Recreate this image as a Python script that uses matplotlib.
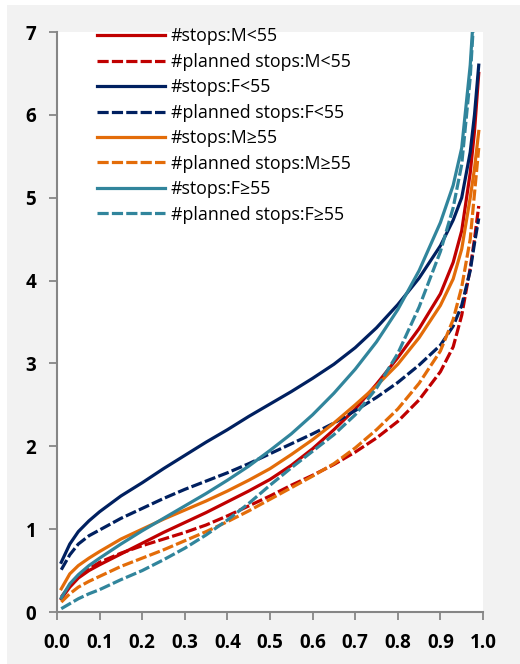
import matplotlib.pyplot as plt
from matplotlib.patches import Rectangle

plt.rcParams['font.family'] = ['Open Sans', 'DejaVu Sans']

# share of drivers (quantile) and the matching number of stops
quantile = [0.01, 0.03, 0.05, 0.075, 0.1, 0.15, 0.2, 0.25, 0.3, 0.35, 0.4, 0.45, 0.5,
            0.55, 0.6, 0.65, 0.7, 0.75, 0.8, 0.85, 0.9, 0.93, 0.95, 0.97, 0.98, 0.99]

stops_m_lt55 = [0.16, 0.30, 0.41, 0.50, 0.57, 0.70, 0.83, 0.96, 1.08, 1.20, 1.33, 1.46, 1.60,
                1.77, 1.97, 2.20, 2.45, 2.75, 3.07, 3.42, 3.84, 4.22, 4.60, 5.30, 5.80, 6.50]
planned_m_lt55 = [0.18, 0.32, 0.42, 0.52, 0.60, 0.71, 0.80, 0.88, 0.96, 1.05, 1.16, 1.28, 1.40,
                  1.53, 1.65, 1.78, 1.93, 2.10, 2.30, 2.56, 2.90, 3.20, 3.58, 4.15, 4.50, 4.90]
stops_f_lt55 = [0.60, 0.82, 0.97, 1.10, 1.21, 1.40, 1.56, 1.73, 1.89, 2.05, 2.20, 2.36, 2.51,
                2.66, 2.82, 2.99, 3.19, 3.43, 3.71, 4.03, 4.42, 4.73, 5.00, 5.55, 6.00, 6.60]
planned_f_lt55 = [0.51, 0.69, 0.82, 0.92, 0.99, 1.13, 1.25, 1.37, 1.48, 1.58, 1.68, 1.79, 1.91,
                  2.03, 2.15, 2.28, 2.43, 2.59, 2.77, 2.98, 3.22, 3.45, 3.70, 4.12, 4.45, 4.75]
stops_m_ge55 = [0.28, 0.46, 0.56, 0.65, 0.73, 0.88, 1.00, 1.12, 1.23, 1.34, 1.46, 1.59, 1.73,
                1.90, 2.08, 2.28, 2.50, 2.73, 2.99, 3.31, 3.70, 4.02, 4.38, 5.00, 5.35, 5.80]
planned_m_ge55 = [0.12, 0.22, 0.30, 0.37, 0.43, 0.55, 0.65, 0.75, 0.86, 0.97, 1.09, 1.22, 1.36,
                  1.50, 1.64, 1.79, 1.98, 2.20, 2.45, 2.76, 3.15, 3.53, 3.92, 4.50, 5.05, 5.60]
stops_f_ge55 = [0.17, 0.34, 0.45, 0.56, 0.65, 0.82, 0.98, 1.13, 1.28, 1.43, 1.59, 1.76, 1.95,
                2.15, 2.38, 2.64, 2.93, 3.26, 3.65, 4.12, 4.70, 5.15, 5.60, 6.60, 7.40, 8.40]
planned_f_ge55 = [0.04, 0.10, 0.16, 0.22, 0.27, 0.39, 0.50, 0.63, 0.77, 0.93, 1.11, 1.31, 1.53,
                  1.74, 1.94, 2.14, 2.38, 2.70, 3.12, 3.68, 4.35, 4.88, 5.40, 6.45, 7.30, 8.20]

series = [
    ('#stops:M<55', stops_m_lt55, '#C00000', '-'),
    ('#planned stops:M<55', planned_m_lt55, '#C00000', '--'),
    ('#stops:F<55', stops_f_lt55, '#002060', '-'),
    ('#planned stops:F<55', planned_f_lt55, '#002060', '--'),
    ('#stops:M\u226555', stops_m_ge55, '#E36C09', '-'),
    ('#planned stops:M\u226555', planned_m_ge55, '#E36C09', '--'),
    ('#stops:F\u226555', stops_f_ge55, '#31859C', '-'),
    ('#planned stops:F\u226555', planned_f_ge55, '#31859C', '--'),
]

fig = plt.figure(figsize=(5.2, 6.64), dpi=100)
fig.patch.set_facecolor('white')
fig.patches.append(Rectangle((7 / 520, 0), 1, 659 / 664, transform=fig.transFigure,
                             facecolor='#F2F2F2', edgecolor='none', zorder=-1))

ax = fig.add_axes([57 / 520, 52 / 664, 426 / 520, 580 / 664])
ax.set_facecolor('white')

for label, vals, color, style in series:
    line, = ax.plot(quantile, vals, color=color, lw=2.3, ls=style, label=label)
    if style == '--':
        line.set_dashes((3.5, 1.0))

ax.set_xlim(0, 1)
ax.set_ylim(0, 7)
ax.set_xticks([i / 10 for i in range(11)], [f'{i / 10:.1f}' for i in range(11)],
              fontweight='bold', fontsize=13.5)
ax.set_yticks(range(8), [str(i) for i in range(8)], fontweight='bold', fontsize=13.5)
ax.tick_params(direction='out', length=6, width=1.3, color='#868686', pad=9)

for side in ['top', 'right']:
    ax.spines[side].set_visible(False)
for side in ['left', 'bottom']:
    ax.spines[side].set_color('#868686')
    ax.spines[side].set_linewidth(1.5)

leg = ax.legend(loc='upper left', bbox_to_anchor=(40 / 426, 1.008), frameon=False,
                fontsize=12.8, handlelength=3.8, handletextpad=0.34,
                labelspacing=0.42, borderpad=0, borderaxespad=0)

fig.savefig('out.png', dpi=100, facecolor=fig.get_facecolor())
